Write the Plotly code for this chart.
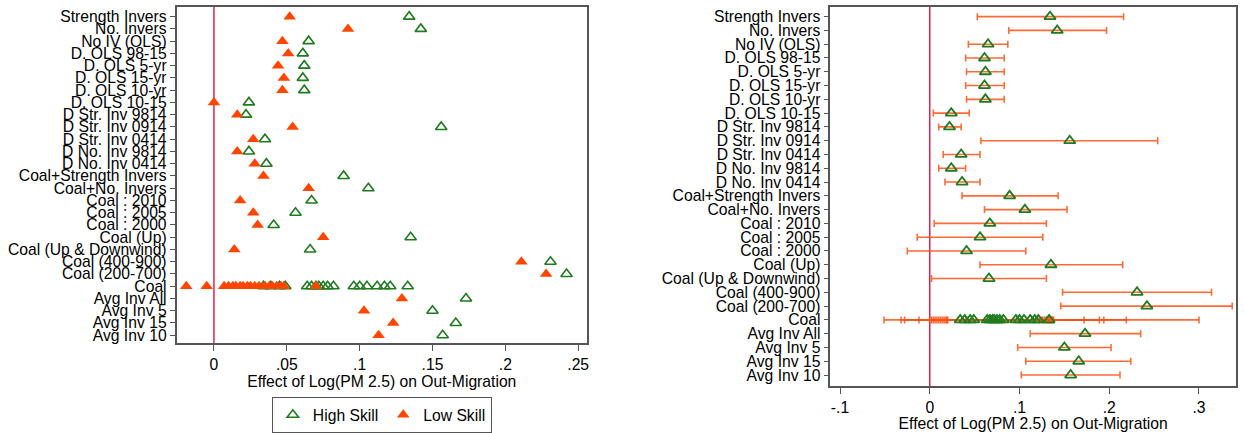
import plotly.graph_objects as go

# ---------------- data ----------------
rows = ["Strength Invers", "No. Invers", "No IV (OLS)", "D. OLS 98-15", "D. OLS 5-yr",
        "D. OLS 15-yr", "D. OLS 10-yr", "D. OLS 10-15", "D Str. Inv 9814", "D Str. Inv 0914",
        "D Str. Inv 0414", "D No. Inv 9814", "D No. Inv 0414", "Coal+Strength Invers",
        "Coal+No. Invers", "Coal : 2010", "Coal : 2005", "Coal : 2000", "Coal (Up)",
        "Coal (Up & Downwind)", "Coal (400-900)", "Coal (200-700)", "Coal",
        "Avg Inv All", "Avg Inv 5", "Avg Inv 15", "Avg Inv 10"]

# single-estimate rows (all rows except "Coal")
single_rows = [r for r in rows if r != "Coal"]
high_skill = [0.134, 0.142, 0.065, 0.061, 0.062, 0.061, 0.062, 0.024, 0.022, 0.156,
              0.035, 0.024, 0.036, 0.089, 0.106, 0.067, 0.056, 0.041, 0.135,
              0.066, 0.231, 0.242, 0.173, 0.150, 0.166, 0.157]
low_skill = [0.052, 0.092, 0.047, 0.051, 0.044, 0.048, 0.047, 0.000, 0.016, 0.054,
             0.027, 0.016, 0.028, 0.034, 0.065, 0.018, 0.027, 0.030, 0.075,
             0.014, 0.211, 0.228, 0.129, 0.103, 0.123, 0.113]
high_ci_lo = [0.053, 0.088, 0.043, 0.040, 0.041, 0.040, 0.041, 0.004, 0.010, 0.057,
              0.015, 0.010, 0.017, 0.036, 0.061, 0.005, -0.014, -0.025, 0.056,
              0.002, 0.148, 0.146, 0.112, 0.098, 0.107, 0.102]
high_ci_hi = [0.216, 0.197, 0.087, 0.083, 0.083, 0.083, 0.083, 0.044, 0.035, 0.254,
              0.056, 0.040, 0.056, 0.143, 0.153, 0.130, 0.126, 0.107, 0.215,
              0.130, 0.314, 0.337, 0.235, 0.202, 0.224, 0.212]

# "Coal" row: many specifications
coal_high = [0.034, 0.039, 0.045, 0.049, 0.064, 0.067, 0.070, 0.072, 0.075, 0.078,
             0.082, 0.096, 0.100, 0.105, 0.112, 0.117, 0.121, 0.133]
coal_high_lo = [-0.028, -0.012, 0.002, 0.006, 0.008, 0.010, 0.012, 0.014, 0.016, 0.018,
                0.020, -0.032, 0.004, 0.040, -0.051, 0.000, 0.080, 0.019]
coal_high_hi = [0.122, 0.126, 0.128, 0.131, 0.133, 0.135, 0.130, 0.132, 0.134, 0.136,
                0.125, 0.219, 0.189, 0.172, 0.300, 0.194, 0.137, 0.138]
coal_low = [-0.019, -0.005, 0.007, 0.010, 0.013, 0.015, 0.018, 0.020, 0.023, 0.025,
            0.028, 0.031, 0.035, 0.038, 0.040, 0.043, 0.046, 0.048, 0.070]

left_ticks = [0, 0.05, 0.1, 0.15, 0.2, 0.25]
left_ticktext = ["0", ".05", ".1", ".15", ".2", ".25"]
right_ticks = [-0.1, 0, 0.1, 0.2, 0.3]
right_ticktext = ["-.1", "0", ".1", ".2", ".3"]
x_title = "Effect of Log(PM 2.5) on Out-Migration"

# ---------------- style ----------------
GREEN = "#1E7B1E"
ORANGE = "#FF4500"
CI = "rgba(255,80,20,0.85)"
VLINE = "#DC2452"
FRAME = "#555555"
FONT = "Liberation Sans, Arial, sans-serif"
FS = 15.7

fig = go.Figure()

# left panel
fig.add_trace(go.Scatter(
    x=high_skill + coal_high, y=single_rows + ["Coal"] * len(coal_high),
    mode="markers", name="High Skill", xaxis="x", yaxis="y",
    marker=dict(symbol="triangle-up-open", size=10, color=GREEN, line=dict(width=1.6, color=GREEN))))
fig.add_trace(go.Scatter(
    x=low_skill + coal_low, y=single_rows + ["Coal"] * len(coal_low),
    mode="markers", name="Low Skill", xaxis="x", yaxis="y",
    marker=dict(symbol="triangle-up", size=11, color=ORANGE, line=dict(width=0))))

# right panel: high skill with CIs
all_high = high_skill + coal_high
all_lo = high_ci_lo + coal_high_lo
all_hi = high_ci_hi + coal_high_hi
fig.add_trace(go.Scatter(
    x=all_high, y=single_rows + ["Coal"] * len(coal_high),
    mode="markers", showlegend=False, xaxis="x2", yaxis="y2",
    error_x=dict(type="data", symmetric=False,
                 array=[h - v for v, h in zip(all_high, all_hi)],
                 arrayminus=[v - l for v, l in zip(all_high, all_lo)],
                 color=CI, thickness=1.6, width=3.5),
    marker=dict(symbol="triangle-up-open", size=10, color=GREEN, line=dict(width=1.8, color=GREEN))))

yax = dict(type="category", categoryorder="array", categoryarray=rows,
           tickmode="array", tickvals=rows, ticktext=rows,
           showline=True, linecolor=FRAME, linewidth=1.5, mirror=True,
           ticks="outside", ticklen=5, tickcolor=FRAME, showgrid=False, zeroline=False,
           tickfont=dict(family=FONT, size=FS, color="black"))
xax = dict(showline=True, linecolor=FRAME, linewidth=1.5, mirror=True,
           ticks="outside", ticklen=6, tickcolor=FRAME, showgrid=False, zeroline=False,
           tickfont=dict(family=FONT, size=FS, color="black"),
           title=dict(text=x_title, font=dict(family=FONT, size=FS, color="black"), standoff=2))

fig.update_layout(
    width=1245, height=433, margin=dict(l=0, r=0, t=0, b=0),
    paper_bgcolor="white", plot_bgcolor="white",
    xaxis=dict(xax, domain=[0.142, 0.4723], range=[-0.0257, 0.2561],
               tickvals=left_ticks, ticktext=left_ticktext),
    yaxis=dict(yax, domain=[0.2032, 0.9838], range=[26.67, -0.79], anchor="x"),
    xaxis2=dict(xax, domain=[0.668, 0.9944], range=[-0.1108, 0.3413],
                tickvals=right_ticks, ticktext=right_ticktext, anchor="y2"),
    yaxis2=dict(yax, domain=[0.1046, 0.9838], range=[26.79, -0.70], anchor="x2"),
    legend=dict(orientation="h", x=0.3072, y=0.0785, xanchor="center", yanchor="top",
                bordercolor=FRAME, borderwidth=1, font=dict(family=FONT, size=FS, color="black"),
                itemwidth=30, tracegroupgap=0),
    shapes=[
        dict(type="line", xref="x", yref="y domain", x0=0, x1=0, y0=0, y1=1,
             line=dict(color=VLINE, width=1.5), layer="below"),
        dict(type="line", xref="x2", yref="y2 domain", x0=0, x1=0, y0=0, y1=1,
             line=dict(color=VLINE, width=1.5), layer="below"),
    ],
)

fig.write_html("out.html")
